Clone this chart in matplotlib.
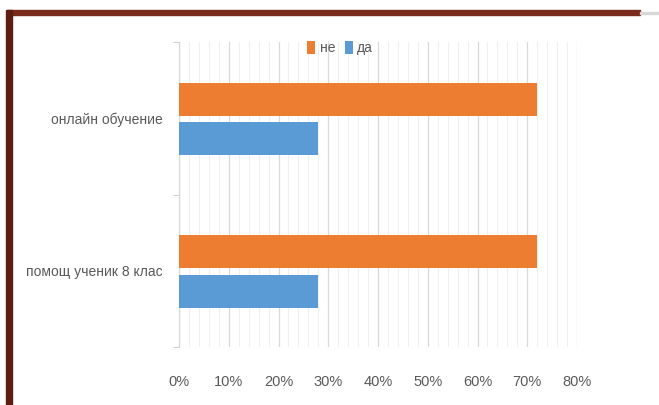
import matplotlib
matplotlib.use("Agg")
import matplotlib.pyplot as plt
from matplotlib.patches import Rectangle
from matplotlib.ticker import MultipleLocator, PercentFormatter

categories = ["онлайн обучение", "помощ ученик 8 клас"]
ne_values = [72, 72]
da_values = [28, 28]
x_ticks = [0, 10, 20, 30, 40, 50, 60, 70, 80]

plt.rcParams['font.family'] = ['Liberation Sans', 'DejaVu Sans']
text_color = "#595959"

fig = plt.figure(figsize=(6.59, 4.05), dpi=100)
ax = fig.add_axes([179 / 659, 1 - 347 / 405, (577 - 179) / 659, (347 - 42) / 405])

ypos = list(range(len(categories)))
h = 0.215
ax.barh([y - 0.125 for y in ypos], ne_values, height=h, color="#ED7D31", label="не", zorder=3)
ax.barh([y + 0.135 for y in ypos], da_values, height=h, color="#5B9BD5", label="да", zorder=3)

ax.set_xlim(0, 80)
ax.set_ylim(len(categories) - 0.5, -0.5)
ax.set_xticks(x_ticks)
ax.xaxis.set_major_formatter(PercentFormatter(decimals=0))
ax.xaxis.set_minor_locator(MultipleLocator(2))
ax.grid(axis="x", which="major", color="#D9D9D9", linewidth=0.9, zorder=0)
ax.grid(axis="x", which="minor", color="#F0F0F0", linewidth=0.8, zorder=0)
ax.set_axisbelow(True)

ax.set_yticks(ypos)
ax.set_yticklabels(categories)
ax.set_yticks([-0.5, 0.5, 1.5], minor=True)
ax.tick_params(axis="y", which="major", length=0, pad=12, labelsize=10, labelcolor=text_color)
ax.tick_params(axis="y", which="minor", length=4, color="#D0D0D0", width=0.8)
ax.tick_params(axis="x", which="both", length=0, pad=20, labelsize=10.5, labelcolor=text_color)

for s in ["top", "right", "bottom"]:
    ax.spines[s].set_visible(False)
ax.spines["left"].set_color("#D9D9D9")
ax.spines["left"].set_linewidth(0.9)

leg = ax.legend(loc="upper center", bbox_to_anchor=(0.405, 1.025), ncol=2, frameon=False,
                fontsize=10, handlelength=0.55, handleheight=1.0, handletextpad=0.35,
                columnspacing=0.7, borderaxespad=0.1)
for t in leg.get_texts():
    t.set_color(text_color)

# photo frame edges around the slide
fig.patches.append(Rectangle((7 / 659, 1 - 15 / 405), (640 - 7) / 659, 5 / 405,
                             transform=fig.transFigure, color="#7B2B1C", zorder=5))
fig.patches.append(Rectangle((6 / 659, 0), 6 / 659, 1 - 10 / 405,
                             transform=fig.transFigure, color="#5E1D12", zorder=5))
fig.patches.append(Rectangle((640 / 659, 1 - 14 / 405), 19 / 659, 2 / 405,
                             transform=fig.transFigure, color="#D8D8D8", zorder=5))

fig.savefig("out.png", dpi=100)
